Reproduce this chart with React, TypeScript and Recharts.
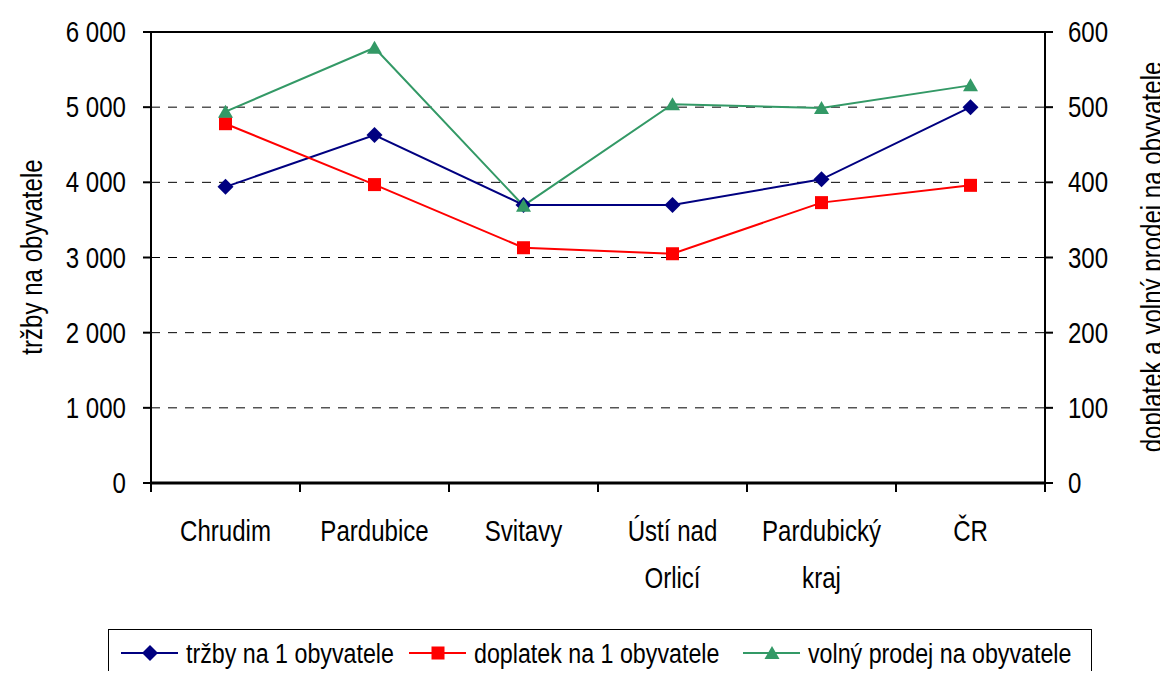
import { LineChart, Line, XAxis, YAxis, CartesianGrid, Legend, ReferenceLine } from "recharts";

// kategorie a hodnoty
const categories = ["Chrudim", "Pardubice", "Svitavy", "Ústí nad Orlicí", "Pardubický kraj", "ČR"];
const trzby = [3940, 4630, 3700, 3700, 4040, 5000];
const doplatek = [478, 397, 313, 305, 373, 396];
const volnyProdej = [494, 579, 369, 504, 499, 529];
const leftTicks = [0, 1000, 2000, 3000, 4000, 5000, 6000];
const rightTicks = [0, 100, 200, 300, 400, 500, 600];
const seriesNames = ["tržby na 1 obyvatele", "doplatek na 1 obyvatele", "volný prodej na obyvatele"];

const data = categories.map((name, i) => ({
  name,
  trzby: trzby[i],
  doplatek: doplatek[i],
  volny: volnyProdej[i],
}));

const W = 1168;
const H = 679;
const LEFT_W = 151;
const RIGHT_W = 123;
const PLOT_W = W - LEFT_W - RIGHT_W;
const BAND = PLOT_W / categories.length;
const FONT = '"Liberation Sans", Arial, sans-serif';
const FS = 29;
const NARROW = 0.83; // napodobení Arial Narrow

const BLUE = "#000080";
const RED = "#ff0000";
const GREEN = "#339966";

const fmt = (v: number) =>
  v >= 1000 ? `${Math.floor(v / 1000)} ${String(v % 1000).padStart(3, "0")}` : String(v);

function Diamond({ cx, cy }: { cx: number; cy: number }) {
  return <path d={`M${cx},${cy - 8}L${cx + 8},${cy}L${cx},${cy + 8}L${cx - 8},${cy}Z`} fill={BLUE} />;
}
function Square({ cx, cy }: { cx: number; cy: number }) {
  return <rect x={cx - 6.5} y={cy - 6.5} width={13} height={13} fill={RED} />;
}
function Triangle({ cx, cy }: { cx: number; cy: number }) {
  return <path d={`M${cx},${cy - 7}L${cx + 7.5},${cy + 6}L${cx - 7.5},${cy + 6}Z`} fill={GREEN} />;
}

const legendItems = [
  { name: seriesNames[0], color: BLUE, Marker: Diamond, x: 12 },
  { name: seriesNames[1], color: RED, Marker: Square, x: 300 },
  { name: seriesNames[2], color: GREEN, Marker: Triangle, x: 634 },
];

function NText({ x, y, anchor, children, size = FS, weight }: any) {
  return (
    <text
      transform={`translate(${x},${y}) scale(${NARROW},1)`}
      textAnchor={anchor}
      fontSize={size}
      fontFamily={FONT}
      fontWeight={weight}
      fill="#000"
    >
      {children}
    </text>
  );
}

function XTick(props: any) {
  const { x, y, payload, index } = props;
  const label = String(payload.value);
  const words = label.split(" ");
  const lines = words.length > 1 && label.length > 10 ? [words.slice(0, -1).join(" "), words[words.length - 1]] : [label];
  return (
    <g>
      <line x1={x - BAND / 2} x2={x - BAND / 2} y1={y} y2={y + 9} stroke="#000" strokeWidth={2} />
      {index === categories.length - 1 && (
        <line x1={x + BAND / 2} x2={x + BAND / 2} y1={y} y2={y + 9} stroke="#000" strokeWidth={2} />
      )}
      {lines.map((l, i) => (
        <NText key={i} x={x} y={y + 58 + i * 47} anchor="middle">
          {l}
        </NText>
      ))}
    </g>
  );
}

function YTick(props: any) {
  const { x, y, payload, textAnchor } = props;
  return (
    <NText x={x} y={y + 10} anchor={textAnchor}>
      {fmt(payload.value)}
    </NText>
  );
}

function LegendBox() {
  return (
    <div style={{ border: "1.5px solid #000", height: 62, boxSizing: "border-box", background: "#fff" }}>
      <svg width={984} height={58}>
        {legendItems.map(({ name, color, Marker, x }) => (
          <g key={name}>
            <line x1={x} x2={x + 57} y1={23} y2={23} stroke={color} strokeWidth={2} />
            <Marker cx={x + 29} cy={23} />
            <NText x={x + 65} y={33} anchor="start" size={28}>
              {name}
            </NText>
          </g>
        ))}
      </svg>
    </div>
  );
}

// nadpis grafu je v originále oříznutý horním okrajem
function ChartTitle() {
  return (
    <svg width={W} height={20} style={{ position: "absolute", left: 0, top: 0, zIndex: 2 }}>
      <text x={610} y={6} textAnchor="middle" fontFamily={FONT} fontWeight="bold" fontSize={27} fill="#000">
        v 1999 - 2005
      </text>
    </svg>
  );
}

const titleStyle = (x: number, y: number): any => ({
  position: "absolute",
  left: x,
  top: y,
  transform: `translate(-50%, -50%) rotate(-90deg) scale(${NARROW}, 1)`,
  fontFamily: FONT,
  fontSize: FS,
  whiteSpace: "nowrap",
  lineHeight: 1,
  zIndex: 2,
});

export default function App() {
  return (
    <div style={{ position: "relative", width: W, height: H, margin: -8, overflow: "hidden", background: "#fff" }}>
      <ChartTitle />
      <div style={titleStyle(32, 257)}>tržby na obyvatele</div>
      <div style={titleStyle(1152, 257)}>doplatek a volný prodej na obyvatele</div>
      <LineChart width={W} height={H} data={data} margin={{ top: 32, right: 0, bottom: 0, left: 0 }}>
        <CartesianGrid yAxisId="left" horizontal vertical={false} stroke="#000" strokeDasharray="9 8" />
        <XAxis
          dataKey="name"
          height={196}
          padding={{ left: BAND / 2, right: BAND / 2 }}
          tickSize={0}
          tickMargin={0}
          tickLine={false}
          axisLine={{ stroke: "#000", strokeWidth: 3 }}
          tick={<XTick />}
          interval={0}
        />
        <YAxis
          yAxisId="left"
          width={LEFT_W}
          domain={[0, 6000]}
          ticks={leftTicks}
          tickSize={8}
          tickMargin={17}
          axisLine={{ stroke: "#000", strokeWidth: 2 }}
          tickLine={{ stroke: "#000", strokeWidth: 2 }}
          tick={<YTick />}
        />
        <YAxis
          yAxisId="right"
          orientation="right"
          width={RIGHT_W}
          domain={[0, 600]}
          ticks={rightTicks}
          tickSize={8}
          tickMargin={15}
          axisLine={{ stroke: "#000", strokeWidth: 2 }}
          tickLine={{ stroke: "#000", strokeWidth: 2 }}
          tick={<YTick />}
        />
        <ReferenceLine yAxisId="left" y={6000} stroke="#000" strokeWidth={2} />
        <Line
          yAxisId="left"
          dataKey="trzby"
          name={seriesNames[0]}
          stroke={BLUE}
          strokeWidth={2}
          isAnimationActive={false}
          activeDot={false}
          dot={(p: any) => <Diamond key={p.index} cx={p.cx} cy={p.cy} />}
        />
        <Line
          yAxisId="right"
          dataKey="doplatek"
          name={seriesNames[1]}
          stroke={RED}
          strokeWidth={2}
          isAnimationActive={false}
          activeDot={false}
          dot={(p: any) => <Square key={p.index} cx={p.cx} cy={p.cy} />}
        />
        <Line
          yAxisId="right"
          dataKey="volny"
          name={seriesNames[2]}
          stroke={GREEN}
          strokeWidth={2}
          isAnimationActive={false}
          activeDot={false}
          dot={(p: any) => <Triangle key={p.index} cx={p.cx} cy={p.cy} />}
        />
        <Legend
          layout="horizontal"
          verticalAlign="middle"
          align="center"
          content={<LegendBox />}
          wrapperStyle={{ position: "absolute", left: 108, top: 629, width: 984, height: 62 }}
        />
      </LineChart>
    </div>
  );
}
